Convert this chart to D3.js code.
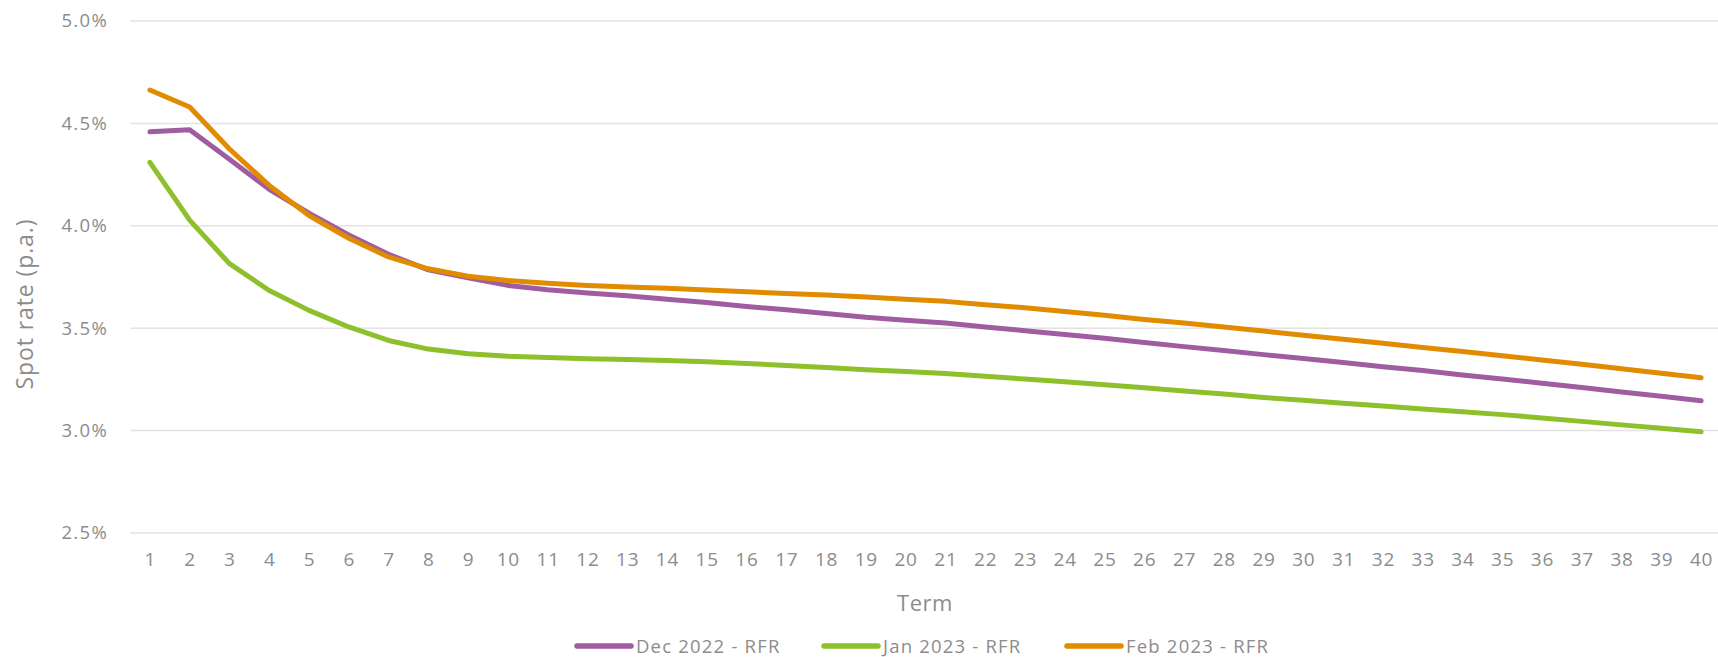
<!DOCTYPE html>
<html>
<head>
<meta charset="utf-8">
<script src="https://cdn.jsdelivr.net/npm/d3@7"></script>
<style>
  html, body { margin: 0; padding: 0; background: #fff; }
  svg { display: block; font-family: "Open Sans", sans-serif; }
</style>
</head>
<body>
<svg id="chart" width="1718" height="657"></svg>
<script>
// Term (years)
const terms = d3.range(1, 41);

// Spot rates, % p.a.
const dec2022 = [4.459, 4.469, 4.325, 4.178, 4.062, 3.955, 3.861, 3.785, 3.746, 3.709,
                 3.688, 3.672, 3.658, 3.641, 3.625, 3.606, 3.590, 3.572, 3.553, 3.539,
                 3.525, 3.506, 3.488, 3.469, 3.451, 3.430, 3.410, 3.391, 3.371, 3.352,
                 3.332, 3.312, 3.293, 3.272, 3.252, 3.231, 3.210, 3.189, 3.168, 3.146];
const jan2023 = [4.310, 4.028, 3.815, 3.684, 3.587, 3.506, 3.440, 3.398, 3.375, 3.363,
                 3.357, 3.351, 3.347, 3.342, 3.336, 3.328, 3.318, 3.308, 3.297, 3.289,
                 3.279, 3.265, 3.252, 3.238, 3.224, 3.209, 3.193, 3.179, 3.162, 3.148,
                 3.134, 3.120, 3.106, 3.092, 3.078, 3.062, 3.045, 3.028, 3.011, 2.994];
const feb2023 = [4.663, 4.580, 4.375, 4.197, 4.050, 3.939, 3.848, 3.790, 3.754, 3.733,
                 3.719, 3.709, 3.701, 3.695, 3.686, 3.678, 3.670, 3.662, 3.652, 3.641,
                 3.631, 3.615, 3.600, 3.582, 3.563, 3.543, 3.525, 3.506, 3.486, 3.466,
                 3.446, 3.426, 3.406, 3.386, 3.366, 3.345, 3.324, 3.302, 3.280, 3.258];

const seriesNames = ["Dec 2022 - RFR", "Jan 2023 - RFR", "Feb 2023 - RFR"];
const seriesColors = ["#A05CA0", "#8DC02B", "#E08B00"];
const yTicks = [2.5, 3.0, 3.5, 4.0, 4.5, 5.0];

const series = [dec2022, jan2023, feb2023].map((vals, i) => ({
  name: seriesNames[i],
  color: seriesColors[i],
  values: vals.map((v, j) => ({ term: terms[j], rate: v }))
}));

const svg = d3.select("#chart");
const textColor = "#8C8C8C";
const plot = { left: 130, right: 1721, top: 21, bottom: 533 };

const x = d3.scalePoint()
  .domain(terms)
  .range([plot.left, plot.right])
  .padding(0.5);

const y = d3.scaleLinear()
  .domain([2.5, 5.0])
  .range([plot.bottom, plot.top]);

// Horizontal gridlines
svg.append("g")
  .selectAll("line")
  .data(yTicks)
  .join("line")
  .attr("x1", plot.left)
  .attr("x2", plot.right)
  .attr("y1", d => y(d))
  .attr("y2", d => y(d))
  .attr("stroke", "#E3E3E3")
  .attr("stroke-width", 1.5);

// Y axis labels
const yAxis = svg.append("g")
  .attr("transform", `translate(${plot.left},0)`)
  .call(d3.axisLeft(y).tickValues(yTicks).tickFormat(d => d.toFixed(1) + "%").tickSize(0).tickPadding(22));
yAxis.select(".domain").remove();
yAxis.selectAll("text")
  .attr("fill", textColor)
  .style("font-size", "18.5px")
  .style("letter-spacing", "1.3px")
  .style("font-family", "'Open Sans', sans-serif");

// X axis labels
const xAxis = svg.append("g")
  .attr("transform", `translate(0,${plot.bottom})`)
  .call(d3.axisBottom(x).tickSize(0).tickPadding(20));
xAxis.select(".domain").remove();
xAxis.selectAll("text")
  .attr("fill", textColor)
  .style("font-size", "19px")
  .style("letter-spacing", "0.8px")
  .style("font-family", "'Open Sans', sans-serif");

// Axis titles
svg.append("text")
  .attr("x", 925)
  .attr("y", 611)
  .attr("text-anchor", "middle")
  .attr("fill", textColor)
  .style("font-size", "22px")
  .style("letter-spacing", "0.5px")
  .text("Term");

svg.append("text")
  .attr("transform", "translate(33,304) rotate(-90)")
  .attr("text-anchor", "middle")
  .attr("fill", textColor)
  .style("font-size", "23px")
  .style("letter-spacing", "0.9px")
  .text("Spot rate (p.a.)");

// Series lines
const line = d3.line()
  .x(d => x(d.term))
  .y(d => y(d.rate));

svg.append("g")
  .selectAll("path")
  .data(series)
  .join("path")
  .attr("d", d => line(d.values))
  .attr("fill", "none")
  .attr("stroke", d => d.color)
  .attr("stroke-width", 5)
  .attr("stroke-linejoin", "round")
  .attr("stroke-linecap", "round");

// Legend
const legendX = [577, 824, 1067];
const legend = svg.append("g")
  .selectAll("g")
  .data(series)
  .join("g")
  .attr("transform", (d, i) => `translate(${legendX[i]},646)`);

legend.append("line")
  .attr("x1", 0)
  .attr("x2", 54)
  .attr("stroke", d => d.color)
  .attr("stroke-width", 5.5)
  .attr("stroke-linecap", "round");

legend.append("text")
  .attr("x", 59)
  .attr("y", 0)
  .attr("dy", "0.36em")
  .attr("fill", textColor)
  .style("font-size", "18.5px")
  .style("letter-spacing", "1.2px")
  .text(d => d.name);
</script>
</body>
</html>
